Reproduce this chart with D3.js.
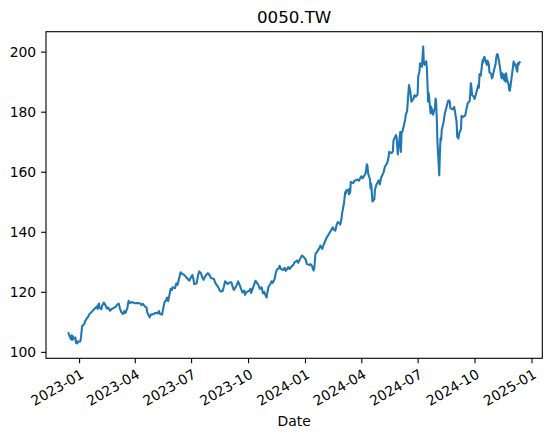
<!DOCTYPE html>
<html>
<head>
<meta charset="utf-8">
<script src="https://cdn.jsdelivr.net/npm/d3@7"></script>
<style>
  body { margin: 0; background: #fff; }
  svg { display: block; font-family: "DejaVu Sans", sans-serif; }
</style>
</head>
<body>
<div id="chart"></div>
<script>

// 0050.TW daily close
let dates = [
  "2022-12-15","2022-12-16","2022-12-19","2022-12-20","2022-12-21","2022-12-22","2022-12-23","2022-12-26",
  "2022-12-27","2022-12-28","2022-12-29","2022-12-30","2023-01-03","2023-01-04","2023-01-05","2023-01-06",
  "2023-01-09","2023-01-10","2023-01-11","2023-01-12","2023-01-13","2023-01-16","2023-01-17","2023-01-30",
  "2023-01-31","2023-02-01","2023-02-02","2023-02-03","2023-02-06","2023-02-07","2023-02-08","2023-02-10",
  "2023-02-13","2023-02-15","2023-02-17","2023-02-20","2023-02-22","2023-02-24","2023-03-01","2023-03-03",
  "2023-03-06","2023-03-08","2023-03-10","2023-03-13","2023-03-15","2023-03-17","2023-03-20","2023-03-22",
  "2023-03-24","2023-03-28","2023-03-31","2023-04-06","2023-04-10","2023-04-12","2023-04-14","2023-04-18",
  "2023-04-20","2023-04-21","2023-04-25","2023-04-27","2023-05-02","2023-05-04","2023-05-08","2023-05-10",
  "2023-05-12","2023-05-15","2023-05-17","2023-05-19","2023-05-22","2023-05-23","2023-05-25","2023-05-29",
  "2023-05-31","2023-06-01","2023-06-05","2023-06-07","2023-06-09","2023-06-12","2023-06-14","2023-06-16",
  "2023-06-19","2023-06-21","2023-06-26","2023-06-28","2023-06-30","2023-07-03","2023-07-05","2023-07-06",
  "2023-07-10","2023-07-12","2023-07-14","2023-07-17","2023-07-19","2023-07-21","2023-07-24","2023-07-26",
  "2023-07-28","2023-07-31","2023-08-02","2023-08-07","2023-08-09","2023-08-11","2023-08-14","2023-08-16",
  "2023-08-18","2023-08-21","2023-08-23","2023-08-25","2023-08-29","2023-08-31","2023-09-04","2023-09-06",
  "2023-09-08","2023-09-11","2023-09-13","2023-09-15","2023-09-18","2023-09-20","2023-09-22","2023-09-25",
  "2023-09-26","2023-09-28","2023-10-03","2023-10-05","2023-10-06","2023-10-11","2023-10-13","2023-10-16",
  "2023-10-18","2023-10-20","2023-10-23","2023-10-25","2023-10-27","2023-10-30","2023-10-31","2023-11-01",
  "2023-11-03","2023-11-06","2023-11-08","2023-11-10","2023-11-13","2023-11-15","2023-11-17","2023-11-20",
  "2023-11-21","2023-11-23","2023-11-27","2023-11-29","2023-12-01","2023-12-05","2023-12-07","2023-12-11",
  "2023-12-13","2023-12-15","2023-12-19","2023-12-21","2023-12-25","2023-12-27","2023-12-29","2024-01-02",
  "2024-01-04","2024-01-08","2024-01-10","2024-01-12","2024-01-15","2024-01-16","2024-01-18","2024-01-22",
  "2024-01-24","2024-01-26","2024-01-29","2024-01-31","2024-02-02","2024-02-05","2024-02-15","2024-02-16",
  "2024-02-19","2024-02-21","2024-02-23","2024-02-26","2024-02-27","2024-02-29","2024-03-01","2024-03-04",
  "2024-03-06","2024-03-07","2024-03-08","2024-03-11","2024-03-12","2024-03-13","2024-03-14","2024-03-15",
  "2024-03-19","2024-03-21","2024-03-26","2024-03-28","2024-04-01","2024-04-03","2024-04-08","2024-04-10",
  "2024-04-11","2024-04-12","2024-04-15","2024-04-16","2024-04-17","2024-04-19","2024-04-22","2024-04-23",
  "2024-04-25","2024-04-29","2024-05-01","2024-05-03","2024-05-07","2024-05-09","2024-05-13","2024-05-15",
  "2024-05-16","2024-05-20","2024-05-22","2024-05-23","2024-05-27","2024-05-28","2024-05-30","2024-05-31",
  "2024-06-03","2024-06-04","2024-06-05","2024-06-07","2024-06-11","2024-06-12","2024-06-14","2024-06-17",
  "2024-06-19","2024-06-21","2024-06-24","2024-06-26","2024-06-28","2024-07-01","2024-07-02","2024-07-04",
  "2024-07-05","2024-07-08","2024-07-10","2024-07-11","2024-07-12","2024-07-15","2024-07-16","2024-07-17",
  "2024-07-18","2024-07-19","2024-07-22","2024-07-23","2024-07-26","2024-07-29","2024-07-30","2024-07-31",
  "2024-08-01","2024-08-02","2024-08-05","2024-08-06","2024-08-07","2024-08-08","2024-08-09","2024-08-12",
  "2024-08-13","2024-08-14","2024-08-16","2024-08-19","2024-08-21","2024-08-22","2024-08-23","2024-08-27",
  "2024-08-29","2024-08-30","2024-09-02","2024-09-03","2024-09-04","2024-09-05","2024-09-06","2024-09-09",
  "2024-09-10","2024-09-12","2024-09-16","2024-09-18","2024-09-20","2024-09-23","2024-09-24","2024-09-25",
  "2024-09-26","2024-09-27","2024-09-30","2024-10-01","2024-10-04","2024-10-07","2024-10-08","2024-10-09",
  "2024-10-11","2024-10-14","2024-10-15","2024-10-16","2024-10-17","2024-10-18","2024-10-21","2024-10-22",
  "2024-10-24","2024-10-25","2024-10-28","2024-10-29","2024-10-30","2024-11-01","2024-11-04","2024-11-05",
  "2024-11-06","2024-11-07","2024-11-08","2024-11-11","2024-11-12","2024-11-13","2024-11-14","2024-11-15",
  "2024-11-18","2024-11-19","2024-11-20","2024-11-21","2024-11-22","2024-11-25","2024-11-26","2024-11-27",
  "2024-11-28","2024-11-29","2024-12-02","2024-12-03","2024-12-04","2024-12-05","2024-12-06","2024-12-09",
  "2024-12-10","2024-12-11","2024-12-12","2024-12-13"
];

let closes = [
  106.2,105.6,104.2,105.5,104.0,105.2,104.3,104.8,
  103.0,103.6,102.8,103.4,103.5,104.6,106.8,108.6,
  109.2,109.6,110.4,110.6,111.0,111.8,112.4,115.2,
  114.3,115.6,116.1,114.8,114.2,115.3,115.7,116.4,
  115.4,114.4,114.8,113.7,114.2,114.4,115.0,115.6,
  116.1,114.5,113.3,112.6,113.6,113.0,114.6,117.0,
  116.3,116.6,116.2,116.3,116.1,115.6,116.0,115.0,
  114.8,113.2,111.5,112.4,112.6,113.0,112.8,113.6,
  112.6,112.4,114.5,116.5,117.4,118.1,116.9,121.0,
  120.6,121.5,121.2,122.8,122.3,124.8,126.5,126.1,
  125.7,125.4,124.2,123.7,124.5,125.6,124.0,122.6,
  122.8,125.3,126.8,126.2,124.8,124.0,125.2,125.8,
  126.2,125.5,124.6,124.3,123.0,122.4,121.5,120.6,
  120.1,120.3,121.8,123.5,122.6,123.0,123.2,121.8,
  120.6,121.5,122.4,123.5,122.0,120.8,119.8,120.4,
  119.0,119.8,120.4,121.0,119.6,122.5,123.7,122.8,
  122.2,121.0,121.5,119.5,120.0,118.5,118.1,119.5,
  121.6,122.6,123.5,123.0,124.3,126.5,127.5,127.9,
  128.7,127.6,127.3,128.0,127.0,128.2,127.6,128.6,
  128.9,129.8,130.4,129.7,131.3,132.1,131.8,130.8,
  129.3,128.9,129.2,128.7,127.1,128.0,132.6,133.8,
  134.5,135.4,134.3,135.6,136.6,138.0,141.5,140.8,
  140.4,142.2,143.2,142.8,142.4,144.5,146.2,149.5,
  153.2,152.7,153.8,154.0,152.5,154.3,153.0,156.6,
  156.2,157.0,157.4,157.0,158.5,157.8,159.5,162.5,
  161.8,159.4,157.5,154.4,156.0,150.1,150.8,153.8,
  155.5,157.1,155.8,158.0,159.8,161.6,163.0,164.8,
  166.6,166.2,166.8,170.4,172.2,171.6,165.8,167.7,
  173.3,166.6,172.7,173.8,177.5,179.1,180.2,188.9,
  187.0,183.3,184.2,185.5,185.0,185.8,191.7,193.5,
  196.1,195.0,201.7,196.5,195.6,196.8,194.2,188.9,
  183.3,186.1,179.4,181.6,179.0,181.5,184.4,183.0,
  177.5,170.0,158.8,166.5,171.1,170.5,174.0,176.6,
  178.0,179.5,181.0,183.5,183.8,183.2,181.1,180.8,
  181.6,180.5,176.5,171.6,172.3,171.0,172.7,174.2,
  178.6,178.2,178.8,181.0,182.8,183.5,186.0,189.5,
  188.0,185.6,185.0,184.2,186.5,188.9,188.0,192.5,
  192.0,197.2,196.5,198.0,198.3,197.5,195.6,197.0,
  195.8,193.2,192.5,191.1,191.5,193.5,196.0,197.8,
  199.0,199.2,198.5,195.0,193.3,191.8,191.1,192.8,
  190.5,192.4,190.0,192.8,191.0,189.0,187.2,187.0,
  188.4,190.0,194.8,196.7,196.2,195.5,195.8,193.3,
  196.1,195.6,196.3,196.5
];

let yTicks = [100, 120, 140, 160, 180, 200];
let xTickLabels = ["2023-01","2023-04","2023-07","2023-10","2024-01","2024-04","2024-07","2024-10","2025-01"];

const width = 552, height = 438;
const margin = {top: 31.7, right: 9.7, bottom: 79.7, left: 46};

const parse = d3.timeParse("%Y-%m-%d");
let data = dates.map((d, i) => ({date: parse(d), close: closes[i]}));

let svg = d3.select("#chart")
  .append("svg")
  .attr("width", width)
  .attr("height", height);

svg.append("rect").attr("width", width).attr("height", height).attr("fill", "#fff");

// matplotlib-like 5% margins around the data
let xExt = d3.extent(data, d => d.date);
let xPad = (xExt[1] - xExt[0]) * 0.05;
let xScale = d3.scaleTime()
  .domain([new Date(+xExt[0] - xPad), new Date(+xExt[1] + xPad)])
  .range([margin.left, width - margin.right]);

let yExt = d3.extent(data, d => d.close);
let yPad = (yExt[1] - yExt[0]) * 0.05;
let yScale = d3.scaleLinear()
  .domain([yExt[0] - yPad, yExt[1] + yPad])
  .range([height - margin.bottom, margin.top]);

// line
let line = d3.line()
  .x(d => xScale(d.date))
  .y(d => yScale(d.close));

svg.append("path")
  .datum(data)
  .attr("fill", "none")
  .attr("stroke", "#1f77b4")
  .attr("stroke-width", 2.08)
  .attr("stroke-linejoin", "round")
  .attr("stroke-linecap", "square")
  .attr("d", line);

// y axis
let yAxis = svg.append("g")
  .attr("transform", `translate(${margin.left},0)`)
  .call(d3.axisLeft(yScale).tickValues(yTicks).tickSize(4.9).tickPadding(4.9).tickSizeOuter(0));
yAxis.select(".domain").remove();
yAxis.selectAll("line").attr("stroke", "#000").attr("stroke-width", 1.1);
yAxis.selectAll("text").attr("font-size", "13.9px").attr("fill", "#000")
  .attr("font-family", "DejaVu Sans, sans-serif");

// x axis
let tickDates = xTickLabels.map(d => d3.timeParse("%Y-%m")(d));
let xAxis = svg.append("g")
  .attr("transform", `translate(0,${height - margin.bottom})`)
  .call(d3.axisBottom(xScale).tickValues(tickDates).tickFormat(d3.timeFormat("%Y-%m")).tickSize(4.9).tickSizeOuter(0));
xAxis.select(".domain").remove();
xAxis.selectAll("line").attr("stroke", "#000").attr("stroke-width", 1.1);
xAxis.selectAll("text")
  .attr("font-size", "13.9px")
  .attr("fill", "#000")
  .attr("font-family", "DejaVu Sans, sans-serif")
  .attr("text-anchor", "end")
  .attr("y", 0).attr("dy", "0.76em")
  .attr("transform", "translate(0,9.7) rotate(-30)");

// frame
svg.append("rect")
  .attr("x", margin.left)
  .attr("y", margin.top)
  .attr("width", width - margin.left - margin.right)
  .attr("height", height - margin.top - margin.bottom)
  .attr("fill", "none")
  .attr("stroke", "#000")
  .attr("stroke-width", 1.1);

// title and label
svg.append("text")
  .attr("x", (margin.left + width - margin.right) / 2)
  .attr("y", margin.top - 8.3)
  .attr("text-anchor", "middle")
  .attr("font-size", "16.7px")
  .text("0050.TW");

svg.append("text")
  .attr("x", (margin.left + width - margin.right) / 2)
  .attr("y", 426)
  .attr("text-anchor", "middle")
  .attr("font-size", "13.9px")
  .text("Date");

</script>
</body>
</html>
